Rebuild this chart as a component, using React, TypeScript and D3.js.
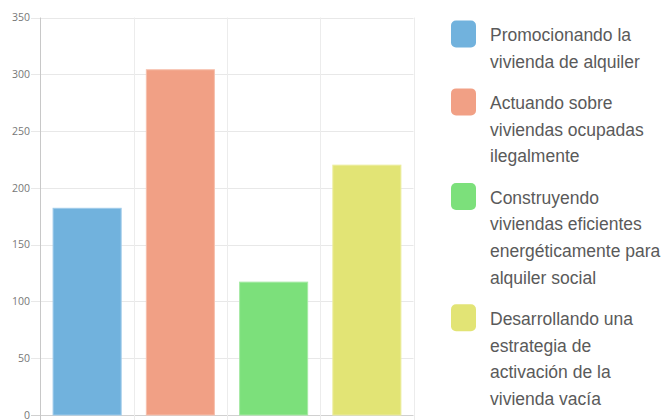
import React from "react";
import * as d3 from "d3";

const categories = [
  "Promocionando la vivienda de alquiler",
  "Actuando sobre viviendas ocupadas ilegalmente",
  "Construyendo viviendas eficientes energéticamente para alquiler social",
  "Desarrollando una estrategia de activación de la vivienda vacía",
];
const values = [182, 304, 117, 220];
const colors = ["#71b2dd", "#f1a085", "#7ce07b", "#e2e475"];
const borders = ["#9fcbea", "#f6c0ad", "#a6eaa5", "#ecedA0"];
const legendLines = [
  ["Promocionando la", "vivienda de alquiler"],
  ["Actuando sobre", "viviendas ocupadas", "ilegalmente"],
  ["Construyendo", "viviendas eficientes", "energéticamente para", "alquiler social"],
  ["Desarrollando una", "estrategia de", "activación de la", "vivienda vacía"],
];
const yTicks = [0, 50, 100, 150, 200, 250, 300, 350];

export default function App() {
  const W = 666, H = 420;
  const left = 40.5, right = 413.5, top = 17.5, bottom = 415;
  const x = d3.scaleBand<number>().domain(d3.range(categories.length)).range([left, right]);
  const y = d3.scaleLinear().domain([0, 350]).range([bottom, top]);
  const barW = x.bandwidth() * 0.73;

  const lineH = 26.7;
  const groupGap = 14.5;
  let cy = 35;
  const legendItems = legendLines.map((lines, i) => {
    const startY = cy;
    cy += lines.length * lineH + groupGap;
    return { lines, startY, i };
  });

  return (
    <div style={{ position: "absolute", left: 0, top: 0 }}>
      <svg width={W} height={H} style={{ display: "block" }}>
        <rect width={W} height={H} fill="#fff" />
        {yTicks.map((t) => (
          <g key={t}>
            <line x1={31} x2={right} y1={Math.round(y(t)) + 0.5} y2={Math.round(y(t)) + 0.5}
              stroke={t === 0 ? "#d0d0d0" : "#e8e8e8"} strokeWidth={1} />
            <text x={30} y={y(t)} dy="0.35em" textAnchor="end" fontSize={10.5}
              fontFamily="'Open Sans', sans-serif" fill="#777">{t}</text>
          </g>
        ))}
        {d3.range(categories.length + 1).map((i) => {
          const xv = i === categories.length ? right : x(i)!;
          return i === 0 ? null : (
            <line key={i} x1={Math.round(xv) + 0.5} x2={Math.round(xv) + 0.5} y1={top} y2={bottom + 5}
              stroke="#ececec" />
          );
        })}
        <line x1={left} x2={left} y1={top} y2={H} stroke="#c8c8c8" />
        {values.map((v, i) => {
          const bx = x(i)! + (x.bandwidth() - barW) / 2;
          return (
            <rect key={i} x={bx} y={y(v)} width={barW} height={bottom - y(v)}
              fill={colors[i]} stroke={borders[i]} strokeWidth={1} />
          );
        })}
        {legendItems.map(({ lines, startY, i }) => (
          <g key={i}>
            <rect x={451} y={startY - 14.5} width={25} height={27} rx={5} fill={colors[i]} />
            {lines.map((l, j) => (
              <text key={j} x={490} y={startY + j * lineH} dy="0.35em" fontSize={17.5}
                fontFamily="'Liberation Sans', Arial, sans-serif" fill="#5a5a5a">{l}</text>
            ))}
          </g>
        ))}
      </svg>
    </div>
  );
}
